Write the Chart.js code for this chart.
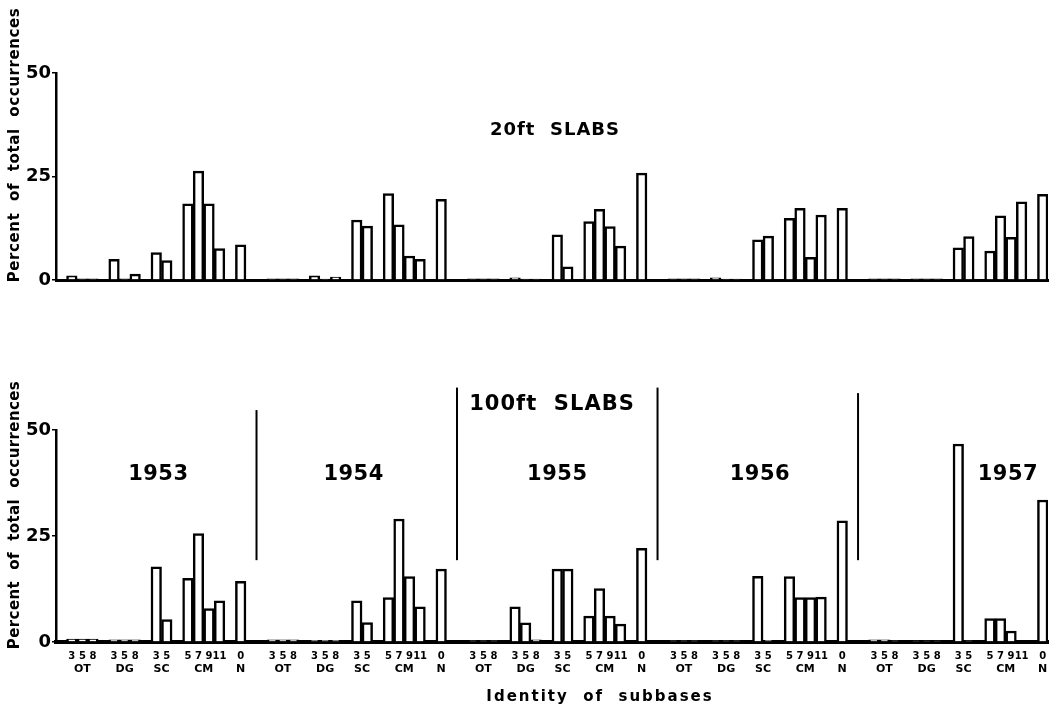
<!DOCTYPE html>
<html>
<head>
<meta charset="utf-8">
<title>Identity of subbases - 20ft and 100ft slabs</title>
<script src="https://cdn.jsdelivr.net/npm/chart.js@4.4.1/dist/chart.umd.min.js"></script>
<style>
  html, body { margin: 0; padding: 0; background: #fff; }
  #page { position: relative; width: 1057px; height: 713px; overflow: hidden; }
  .panel { position: absolute; left: 0; width: 1057px; }
  #top-panel { top: 0; height: 300px; }
  #bottom-panel { top: 360px; height: 353px; }
</style>
</head>
<body>
<div id="page">
  <div class="panel" id="top-panel"><canvas id="slabs-20ft"></canvas></div>
  <div class="panel" id="bottom-panel"><canvas id="slabs-100ft"></canvas></div>
</div>
<script>
const years = ["1953", "1954", "1955", "1956", "1957"];
const subbaseGroups = ["OT", "DG", "SC", "CM", "N"];
const subbaseSizes = [["3", "5", "8"], ["3", "5", "8"], ["3", "5"], ["5", "7", "9", "11"], ["0"]];
const yTicks = [0, 25, 50];

// percent of total occurrences, order: OT 3 5 8, DG 3 5 8, SC 3 5, CM 5 7 9 11, N 0
const slabs20ft1953 = [1.0, 0.3, 0.3, 5.0, 0.3, 1.4, 6.6, 4.7, 18.4, 26.3, 18.4, 7.6, 8.5];
const slabs20ft1954 = [0.3, 0.3, 0.3, 1.0, 0.2, 0.7, 14.5, 13.0, 20.9, 13.3, 5.8, 5.0, 19.5];
const slabs20ft1955 = [0.3, 0.3, 0.3, 0.5, 0.2, 0.2, 10.9, 3.2, 14.1, 17.1, 12.9, 8.2, 25.8];
const slabs20ft1956 = [0.3, 0.3, 0.3, 0.5, 0.2, 0.2, 9.7, 10.6, 14.9, 17.3, 5.5, 15.7, 17.3];
const slabs20ft1957 = [0.3, 0.3, 0.3, 0.3, 0.3, 0.3, 7.8, 10.5, 7.0, 15.5, 10.3, 18.9, 20.7];

const slabs100ft1953 = [0.7, 0.7, 0.7, 0.5, 0.5, 0.5, 17.7, 5.3, 15.0, 25.6, 7.9, 9.7, 14.3];
const slabs100ft1954 = [0.5, 0.5, 0.5, 0.4, 0.4, 0.4, 9.7, 4.6, 10.5, 29.0, 15.4, 8.3, 17.2];
const slabs100ft1955 = [0.3, 0.3, 0.3, 8.3, 4.5, 0.5, 17.2, 17.2, 6.1, 12.6, 6.1, 4.2, 22.1];
const slabs100ft1956 = [0.3, 0.3, 0.3, 0.3, 0.3, 0.3, 15.5, 0.4, 15.4, 10.5, 10.5, 10.6, 28.6];
const slabs100ft1957 = [0.5, 0.5, 0.3, 0.2, 0.2, 0.2, 46.7, 0.3, 5.5, 5.5, 2.6, 0, 33.5];

const font = "'DejaVu Sans', 'Liberation Sans', sans-serif";
Chart.defaults.font.family = font;
Chart.defaults.color = "#000";

function buildAxis() {
  const labels = [];
  const groups = [];
  const yearStarts = [];
  years.forEach(() => {
    yearStarts.push(labels.length);
    labels.push("");
    subbaseGroups.forEach((name, g) => {
      const first = labels.length;
      subbaseSizes[g].forEach((size) => labels.push(size));
      groups.push({ name, first, last: labels.length - 1 });
      labels.push("");
    });
  });
  labels.pop();
  return { labels, groups, yearStarts };
}

function spreadValues(labels, yearSeries) {
  const values = yearSeries.flat();
  let i = 0;
  return labels.map((label) => (label === "" ? null : values[i++]));
}

function drawText(ctx, text, x, y, size, spacing = 0, rotate = 0) {
  ctx.save();
  ctx.translate(x, y);
  if (rotate) ctx.rotate(rotate);
  ctx.font = `bold ${size}px ${font}`;
  ctx.fillStyle = "#000";
  ctx.textAlign = "center";
  ctx.textBaseline = "middle";
  ctx.letterSpacing = `${spacing}px`;
  ctx.fillText(text, 0, 0);
  ctx.restore();
}

const axis = buildAxis();

function panelOptions(padTop, xHeight, showTicks, axisWidth) {
  return {
    responsive: true,
    maintainAspectRatio: false,
    animation: false,
    layout: { padding: { top: padTop, right: 9, left: 0, bottom: 0 } },
    plugins: { legend: { display: false }, tooltip: { enabled: false } },
    scales: {
      x: {
        type: "category",
        grid: { display: false },
        border: { display: true, color: "#000", width: axisWidth },
        ticks: {
          display: showTicks,
          autoSkip: false,
          maxRotation: 0,
          padding: 0,
          font: { size: 10, weight: "bold" },
          color: "#000",
        },
        afterFit: (scale) => { scale.height = xHeight; },
      },
      y: {
        min: 0,
        max: 50,
        afterBuildTicks: (scale) => { scale.ticks = yTicks.map((value) => ({ value })); },
        grid: { drawOnChartArea: false, drawTicks: true, tickLength: 4, color: "#000", lineWidth: 1.5 },
        border: { display: true, color: "#000", width: 2.5 },
        ticks: { padding: 1, font: { size: 18, weight: "bold" }, color: "#000" },
        afterFit: (scale) => { scale.width = 56; },
      },
    },
  };
}

function barDataset(values) {
  return {
    data: values,
    backgroundColor: "#fff",
    borderColor: "#000",
    borderWidth: 2.5,
    barPercentage: 1,
    categoryPercentage: 1,
  };
}

const topOverlay = {
  id: "topOverlay",
  afterDraw(chart) {
    const ctx = chart.ctx;
    drawText(ctx, "20ft  SLABS", 555, 130, 18, 1);
    drawText(ctx, "Percent  of  total  occurrences", 15, 145, 15, 0.6, -Math.PI / 2);
  },
};

// year dividers (value-axis extents) and year label slot offsets
const dividerTops = [54.7, 60, 60, 58.7];
const dividerBottom = 19.3;
const yearLabelSlots = [9.7, 9.2, 9.5, 9.7, 14.2];

const bottomOverlay = {
  id: "bottomOverlay",
  afterDraw(chart) {
    const ctx = chart.ctx;
    const xs = chart.scales.x;
    const ys = chart.scales.y;
    const slot = xs.getPixelForValue(1) - xs.getPixelForValue(0);
    const left = xs.getPixelForValue(0) - slot / 2;

    ctx.save();
    ctx.strokeStyle = "#000";
    ctx.lineWidth = 2;
    axis.yearStarts.slice(1).forEach((start, k) => {
      const x = left + start * slot;
      ctx.beginPath();
      ctx.moveTo(x, ys.getPixelForValue(dividerTops[k]));
      ctx.lineTo(x, ys.getPixelForValue(dividerBottom));
      ctx.stroke();
    });
    ctx.restore();

    years.forEach((year, k) => {
      const x = left + (axis.yearStarts[k] + yearLabelSlots[k]) * slot;
      drawText(ctx, year, x, ys.getPixelForValue(39.4), 21, 0.5);
    });

    axis.groups.forEach((group) => {
      const x = (xs.getPixelForValue(group.first) + xs.getPixelForValue(group.last)) / 2;
      drawText(ctx, group.name, x, 309, 11);
    });

    drawText(ctx, "100ft  SLABS", 552, 45, 21, 1);
    drawText(ctx, "Identity  of  subbases", 600, 337, 15, 2);
    drawText(ctx, "Percent  of  total  occurrences", 15, 155, 15, 0.4, -Math.PI / 2);
  },
};

new Chart(document.getElementById("slabs-20ft"), {
  type: "bar",
  data: {
    labels: axis.labels,
    datasets: [barDataset(spreadValues(axis.labels, [slabs20ft1953, slabs20ft1954, slabs20ft1955, slabs20ft1956, slabs20ft1957]))],
  },
  options: panelOptions(73, 20, false, 3),
  plugins: [topOverlay],
});

new Chart(document.getElementById("slabs-100ft"), {
  type: "bar",
  data: {
    labels: axis.labels,
    datasets: [barDataset(spreadValues(axis.labels, [slabs100ft1953, slabs100ft1954, slabs100ft1955, slabs100ft1956, slabs100ft1957]))],
  },
  options: panelOptions(70, 71, true, 4),
  plugins: [bottomOverlay],
});
</script>
</body>
</html>
